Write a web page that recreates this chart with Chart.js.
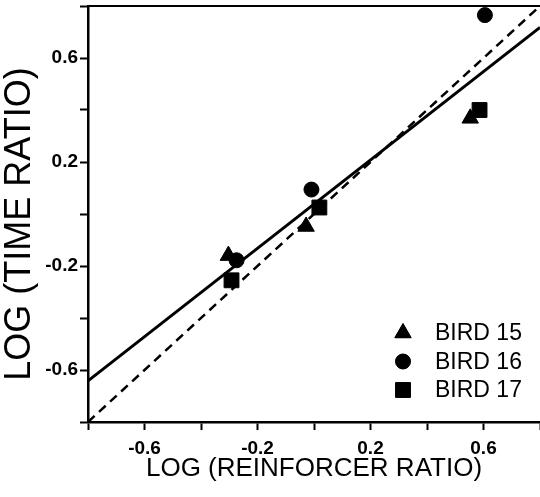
<!DOCTYPE html>
<html>
<head>
<meta charset="utf-8">
<script src="https://cdn.jsdelivr.net/npm/chart.js@4.4.1/dist/chart.umd.min.js"></script>
<style>
  html, body { margin: 0; padding: 0; background: #fff; }
  #wrap { width: 540px; height: 497px; }
</style>
</head>
<body>
<div id="wrap"><canvas id="chart" width="540" height="497"></canvas></div>
<script>
// values (log units)
const birds = ['BIRD 15', 'BIRD 16', 'BIRD 17'];
const bird15X = [-0.303, -0.028, 0.553];
const bird15Y = [-0.160, -0.048, 0.368];
const bird16X = [-0.274, -0.009, 0.605];
const bird16Y = [-0.178, 0.094, 0.765];
const bird17X = [-0.292, 0.019, 0.586];
const bird17Y = [-0.255, 0.025, 0.400];
// fitted line and unity (perfect matching) line
const fitX = [-0.8, 0.8];
const fitY = [-0.642, 0.718];
const unityX = [-0.8, 0.8];
const unityY = [-0.8, 0.8];
const tickValues = [-0.8, -0.6, -0.4, -0.2, 0, 0.2, 0.4, 0.6, 0.8];
const tickLabels = ['', '-0.6', '', '-0.2', '', '0.2', '', '0.6', ''];

const pts = (xs, ys) => xs.map((x, i) => ({x: x, y: ys[i]}));

const tickLabel = (v) => {
    const i = tickValues.findIndex(t => Math.abs(t - v) < 1e-6);
    return i < 0 ? '' : tickLabels[i];
};

// fixed axis sizes, no extra label padding around the plot
const fixSize = (w, h) => (scale) => {
    if (w !== null) scale.width = w;
    if (h !== null) scale.height = h;
    scale.paddingLeft = scale.paddingRight = 0;
    scale.paddingTop = scale.paddingBottom = 0;
};

const FONT = "'Liberation Sans', Arial, sans-serif";

// little legend drawn inside the plot, lower right
const markerLegend = {
    id: 'markerLegend',
    afterDatasetsDraw(chart) {
        const ctx = chart.ctx;
        const area = chart.chartArea;
        ctx.save();
        ctx.font = '23px ' + FONT;
        ctx.textBaseline = 'middle';
        ctx.textAlign = 'left';
        birds.forEach((name, i) => {
            const ds = chart.data.datasets[i];
            const y = area.bottom - 89 + i * 28.5;
            Chart.helpers.drawPoint(ctx, {
                pointStyle: ds.pointStyle,
                radius: ds.pointRadius,
                rotation: 0,
                borderWidth: 1
            }, area.right - 137, y);
            ctx.fillStyle = '#000';
            ctx.fill();
            ctx.fillText(name, area.right - 105, y + 1);
        });
        ctx.restore();
    }
};

Chart.defaults.font.family = FONT;
Chart.defaults.color = '#000';

new Chart(document.getElementById('chart').getContext('2d'), {
    type: 'scatter',
    data: {
        datasets: [
            {
                label: birds[0],
                data: pts(bird15X, bird15Y),
                pointStyle: 'triangle',
                pointRadius: 9.5,
                backgroundColor: '#000',
                borderColor: '#000',
                borderWidth: 1,
                clip: false
            },
            {
                label: birds[1],
                data: pts(bird16X, bird16Y),
                pointStyle: 'circle',
                pointRadius: 7.5,
                backgroundColor: '#000',
                borderColor: '#000',
                borderWidth: 1,
                clip: false
            },
            {
                label: birds[2],
                data: pts(bird17X, bird17Y),
                pointStyle: 'rect',
                pointRadius: 10.5,
                backgroundColor: '#000',
                borderColor: '#000',
                borderWidth: 1,
                clip: false
            },
            {
                label: 'fit',
                data: pts(fitX, fitY),
                showLine: true,
                pointRadius: 0,
                borderColor: '#000',
                borderWidth: 3,
                clip: false
            },
            {
                label: 'unity',
                data: pts(unityX, unityY),
                showLine: true,
                pointRadius: 0,
                borderColor: '#000',
                borderWidth: 2.5,
                borderDash: [9, 6],
                clip: false
            }
        ]
    },
    options: {
        responsive: false,
        animation: false,
        layout: {autoPadding: false, padding: {top: 6, right: 0, bottom: 0, left: 0}},
        scales: {
            x: {
                type: 'linear',
                position: 'bottom',
                min: -0.8,
                max: 0.8,
                afterFit: fixSize(null, 75),
                afterBuildTicks(scale) { scale.ticks = tickValues.map(v => ({value: v})); },
                ticks: {
                    callback: tickLabel,
                    font: {size: 19, weight: 'bold'},
                    padding: 7,
                    maxRotation: 0,
                    autoSkip: false
                },
                grid: {
                    drawOnChartArea: false,
                    tickLength: 8,
                    tickWidth: 2,
                    tickColor: '#000'
                },
                border: {color: '#000', width: 2.5},
                title: {
                    display: true,
                    text: 'LOG (REINFORCER RATIO)',
                    font: {size: 26, lineHeight: 1},
                    padding: {top: 0, bottom: 15}
                }
            },
            top: {
                type: 'linear',
                position: 'top',
                min: -0.8,
                max: 0.8,
                afterFit: fixSize(null, 0),
                ticks: {display: false},
                grid: {display: false},
                border: {color: '#000', width: 2}
            },
            y: {
                type: 'linear',
                position: 'left',
                min: -0.8,
                max: 0.8,
                afterFit: fixSize(88, null),
                afterBuildTicks(scale) { scale.ticks = tickValues.map(v => ({value: v})); },
                ticks: {
                    callback: tickLabel,
                    font: {size: 19, weight: 'bold'},
                    padding: 2,
                    autoSkip: false
                },
                grid: {
                    drawOnChartArea: false,
                    tickLength: 8,
                    tickWidth: 2,
                    tickColor: '#000'
                },
                border: {color: '#000', width: 2.5},
                title: {
                    display: true,
                    text: 'LOG (TIME RATIO)  ',
                    font: {size: 36, lineHeight: 1},
                    padding: {top: 2, bottom: 0}
                }
            }
        },
        plugins: {
            legend: {display: false},
            tooltip: {enabled: false}
        }
    },
    plugins: [markerLegend]
});
</script>
</body>
</html>
